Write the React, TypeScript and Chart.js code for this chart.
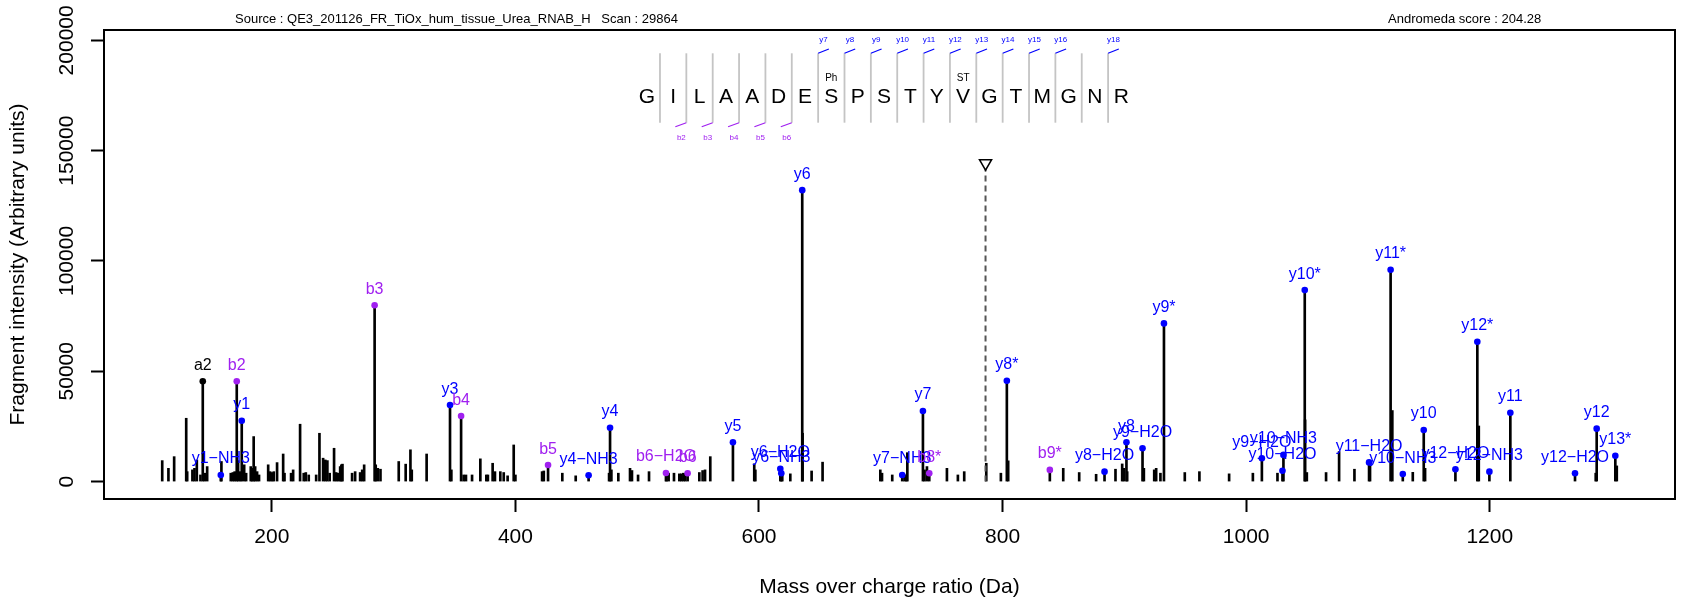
import React, { useEffect, useRef } from 'react';
import { Chart, registerables } from 'chart.js';

Chart.register(...registerables);

const FONT = "'Liberation Sans', Arial, Helvetica, sans-serif";

// ---------- data ----------
const peakMz = [
  110.0, 115.1, 119.8, 129.7, 130.5, 134.8, 136.5, 138.4, 141.4, 144.9, 146.9, 158.6, 166.3, 168.0, 169.5,
  172.3, 174.0, 177.3, 178.9, 182.7, 183.8, 185.1, 186.3, 187.9, 189.5, 197.0, 198.6, 200.2, 201.6, 204.3,
  209.3, 210.4, 215.8, 217.5, 223.2, 226.2, 227.9, 230.3, 236.4, 239.1, 242.1, 243.9, 245.6, 247.5, 251.1,
  252.8, 254.4, 256.1, 257.1, 258.0, 265.9, 268.4, 272.5, 274.2, 275.8, 285.3, 287.0, 289.2, 304.2, 309.9,
  313.8, 314.9, 327.1, 347.4, 357.5, 359.4, 364.4, 371.2, 376.1, 377.4, 381.3, 383.2, 387.6, 390.4, 393.6,
  398.6, 400.0, 421.9, 423.3, 438.5, 449.5, 476.9, 478.8, 484.5, 494.1, 495.7, 500.7, 509.7, 524.1, 525.8,
  530.2, 534.6, 536.2, 537.9, 539.5, 551.0, 553.7, 555.7, 560.0, 596.1, 597.0, 619.1, 625.7, 635.8, 643.2,
  652.2, 699.6, 701.0, 709.4, 719.5, 720.9, 721.8, 735.9, 737.9, 754.3, 763.3, 768.5, 786.6, 798.6, 804.6,
  849.8, 862.9, 876.8, 892.7, 898.2, 899.6, 902.3, 916.0, 924.5, 926.1, 929.6, 949.6, 961.6, 986.0, 1005.5,
  1025.7, 1048.4, 1049.8, 1065.6, 1076.3, 1088.9, 1101.7, 1120.0, 1136.8, 1146.9, 1191.0, 1287.0, 1304.3,
];
const peakIntensity = [
  9500, 6000, 11300, 28700, 4500, 5300, 6000, 9800, 3000, 3800, 6800, 9100, 3800, 4100, 4500,
  9500, 4500, 7600, 3800, 6800, 6000, 20400, 6800, 4500, 3000, 7600, 4500, 4100, 4500, 8600,
  12500, 3800, 3800, 5300, 26000, 3800, 4100, 3000, 3000, 21900, 10600, 9800, 9500, 3800, 15100,
  4100, 3800, 6800, 7600, 7900, 3800, 4500, 4100, 5300, 7600, 7600, 6000, 5600, 9100, 7900,
  14400, 5300, 12500, 5300, 3000, 3000, 3000, 10300, 3000, 3000, 8300, 4500, 4500, 4100, 2600,
  16600, 3000, 4500, 4800, 3800, 2600, 3800, 5300, 3800, 6000, 5000, 3000, 4500, 3000, 3800,
  3800, 3500, 3500, 3800, 3800, 4100, 5000, 5300, 11300, 8000, 5300, 3000, 3500, 21900, 4800,
  8800, 5300, 3800, 3000, 3000, 3000, 13100, 5300, 6800, 6000, 3000, 4500, 8300, 3800, 9400,
  6000, 4100, 3300, 5600, 8000, 6000, 4500, 6000, 5300, 6000, 3800, 4100, 4500, 3500, 3800,
  3800, 28000, 4100, 4100, 13600, 5600, 7600, 32200, 4200, 6000, 25200, 3800, 7100,
];

const ionMz = [
  143.3, 158.1, 171.2, 175.3, 284.4, 346.3, 355.4, 426.8, 460.1, 477.7, 523.6, 541.4, 578.6, 617.5, 618.3,
  635.5, 717.6, 734.6, 739.8, 803.5, 838.8, 883.7, 901.7, 914.9, 932.5, 1012.9, 1029.8, 1030.6, 1048.1, 1100.9,
  1118.6, 1128.6, 1145.8, 1171.8, 1189.8, 1199.7, 1216.9, 1270.0, 1287.8, 1303.1,
];
const ionIntensity = [
  45500, 3000, 45500, 27600, 79900, 34700, 29700, 7500, 2900, 24400, 3900, 3800, 17800, 5800, 3800,
  132100, 3000, 32000, 3800, 45700, 5300, 4500, 17800, 15100, 71700, 10600, 4900, 12100, 86800, 8700,
  96000, 3400, 23400, 5600, 63400, 4500, 31200, 3800, 24000, 11700,
];
const ionLabel = [
  'a2', 'y1−NH3', 'b2', 'y1', 'b3', 'y3', 'b4', 'b5', 'y4−NH3', 'y4', 'b6−H2O', 'b6', 'y5', 'y6−H2O', 'y6−NH3',
  'y6', 'y7−NH3', 'y7', 'b8*', 'y8*', 'b9*', 'y8−H2O', 'y8', 'y9−H2O', 'y9*', 'y9−H2O', 'y10−H2O', 'y10−NH3', 'y10*', 'y11−H2O',
  'y11*', 'y10−NH3', 'y10', 'y12−H2O', 'y12*', 'y12−NH3', 'y11', 'y12−H2O', 'y12', 'y13*',
];
const ionKind = [
  'a', 'y', 'b', 'y', 'b', 'y', 'b', 'b', 'y', 'y', 'b', 'b', 'y', 'y', 'y',
  'y', 'y', 'y', 'b', 'y', 'b', 'y', 'y', 'y', 'y', 'y', 'y', 'y', 'y', 'y',
  'y', 'y', 'y', 'y', 'y', 'y', 'y', 'y', 'y', 'y',
];

const precursorMz = 786;
const precursorMarker = 144300;

const xTicks = [200, 400, 600, 800, 1000, 1200];
const yTicks = [0, 50000, 100000, 150000, 200000];
const xRange = [62.2, 1352.1];
const yRange = [-7900, 204700];

const sequence = ['G', 'I', 'L', 'A', 'A', 'D', 'E', 'S', 'P', 'S', 'T', 'Y', 'V', 'G', 'T', 'M', 'G', 'N', 'R'];
const yLadderLabels = ['y7', 'y8', 'y9', 'y10', 'y11', 'y12', 'y13', 'y14', 'y15', 'y16', 'y18'];
const yLadderSites = [7, 8, 9, 10, 11, 12, 13, 14, 15, 16, 18];
const bLadderLabels = ['b2', 'b3', 'b4', 'b5', 'b6'];
const bLadderSites = [2, 3, 4, 5, 6];
const modSites = [7, 12];
const modTexts = ['Ph', 'ST'];

const sourceText = 'Source : QE3_201126_FR_TiOx_hum_tissue_Urea_RNAB_H   Scan : 29864';
const scoreText = 'Andromeda score : 204.28';
const xTitle = 'Mass over charge ratio (Da)';
const yTitle = 'Fragment intensity (Arbitrary units)';

// ---------- styles ----------
const COLORS: Record<string, string> = { y: '#0000FF', b: '#A020F0', a: '#000000' };
const LADDER = {
  x0: 646.8,
  step: 26.36,
  baseline: 102.5,
  sepTop: 53.3,
  sepBottom: 122.7,
  yLabelBase: 41.9,
  bLabelBase: 139.9,
  modBase: 80.9,
};

const decorPlugin = {
  id: 'decor',
  afterDatasetsDraw(chart: any) {
    const ctx = chart.ctx;
    const meta = chart.getDatasetMeta(2);
    ctx.save();
    ctx.font = `16px ${FONT}`;
    ctx.textAlign = 'center';
    ctx.textBaseline = 'alphabetic';
    meta.data.forEach((pt: any, i: number) => {
      ctx.fillStyle = COLORS[ionKind[i]];
      ctx.fillText(ionLabel[i], pt.x, pt.y - 11.5);
    });
    ctx.restore();
  },
  afterDraw(chart: any) {
    const ctx = chart.ctx;
    const { left, right, top, bottom } = chart.chartArea;
    ctx.save();
    // frame
    ctx.strokeStyle = '#000';
    ctx.lineWidth = 2;
    ctx.strokeRect(left, top, right - left, bottom - top);

    // rotated y tick labels
    const ys = chart.scales.y;
    ctx.fillStyle = '#000';
    ctx.font = `21px ${FONT}`;
    ctx.textAlign = 'center';
    ctx.textBaseline = 'middle';
    yTicks.forEach((v) => {
      const py = ys.getPixelForValue(v);
      ctx.save();
      ctx.translate(67.5, py);
      ctx.rotate(-Math.PI / 2);
      ctx.fillText(String(v), 0, 0);
      ctx.restore();
    });

    // header
    ctx.font = `13px ${FONT}`;
    ctx.textAlign = 'left';
    ctx.textBaseline = 'alphabetic';
    ctx.fillText(sourceText, 235, 23);
    ctx.fillText(scoreText, 1388, 23);

    // sequence ladder
    const sepX = (k: number) => LADDER.x0 + (k - 0.5) * LADDER.step;
    ctx.strokeStyle = '#C4C4C4';
    ctx.lineWidth = 1.8;
    for (let k = 1; k < sequence.length; k++) {
      ctx.beginPath();
      ctx.moveTo(sepX(k), LADDER.sepTop);
      ctx.lineTo(sepX(k), LADDER.sepBottom);
      ctx.stroke();
    }
    ctx.fillStyle = '#000';
    ctx.font = `21px ${FONT}`;
    ctx.textAlign = 'center';
    sequence.forEach((aa, i) => ctx.fillText(aa, LADDER.x0 + i * LADDER.step, LADDER.baseline));

    ctx.font = `10px ${FONT}`;
    modSites.forEach((s, i) => ctx.fillText(modTexts[i], LADDER.x0 + s * LADDER.step, LADDER.modBase));

    ctx.lineWidth = 1.2;
    ctx.font = `8px ${FONT}`;
    ctx.strokeStyle = COLORS.y;
    ctx.fillStyle = COLORS.y;
    yLadderSites.forEach((s, i) => {
      const x = sepX(s);
      ctx.beginPath();
      ctx.moveTo(x, LADDER.sepTop);
      ctx.lineTo(x + 10.7, LADDER.sepTop - 4.3);
      ctx.stroke();
      ctx.fillText(yLadderLabels[i], x + 5.4, LADDER.yLabelBase);
    });
    ctx.strokeStyle = COLORS.b;
    ctx.fillStyle = COLORS.b;
    bLadderSites.forEach((s, i) => {
      const x = sepX(s);
      ctx.beginPath();
      ctx.moveTo(x, LADDER.sepBottom);
      ctx.lineTo(x - 11, LADDER.sepBottom + 4.1);
      ctx.stroke();
      ctx.fillText(bLadderLabels[i], x - 5, LADDER.bLabelBase);
    });
    ctx.restore();
  },
};

export default function App() {
  const ref = useRef<HTMLCanvasElement | null>(null);

  useEffect(() => {
    if (!ref.current) return;
    Chart.defaults.font.family = FONT;
    Chart.defaults.color = '#000';

    const barData = peakMz
      .map((m, i) => ({ x: m, y: peakIntensity[i] }))
      .concat(ionMz.map((m, i) => ({ x: m, y: ionIntensity[i] })));

    const chart = new Chart(ref.current, {
      type: 'scatter',
      data: {
        datasets: [
          {
            type: 'bar',
            label: 'peaks',
            data: barData,
            backgroundColor: '#000',
            borderWidth: 0,
            barThickness: 2,
            order: 3,
          } as any,
          {
            type: 'line',
            label: 'precursor',
            data: [
              { x: precursorMz, y: 0 },
              { x: precursorMz, y: precursorMarker },
            ],
            borderColor: '#555555',
            borderWidth: 2,
            borderDash: [6, 4],
            pointRadius: [0, 7],
            pointStyle: 'triangle',
            pointRotation: 180,
            pointBackgroundColor: '#ffffff',
            pointBorderColor: '#000000',
            pointBorderWidth: 1.5,
            order: 2,
          } as any,
          {
            type: 'scatter',
            label: 'ions',
            data: ionMz.map((m, i) => ({ x: m, y: ionIntensity[i] })),
            pointRadius: 3.3,
            pointBorderWidth: 0,
            pointBackgroundColor: ionKind.map((k) => COLORS[k]),
            showLine: false,
            order: 1,
          } as any,
        ],
      },
      options: {
        responsive: false,
        animation: false,
        events: [],
        layout: { padding: { top: 30, right: 10, left: 0, bottom: 0 } },
        plugins: { legend: { display: false }, tooltip: { enabled: false } },
        scales: {
          x: {
            type: 'linear',
            min: xRange[0],
            max: xRange[1],
            offset: false,
            afterFit: (s: any) => {
              s.height = 101;
            },
            afterBuildTicks: (s: any) => {
              s.ticks = xTicks.map((v) => ({ value: v }));
            },
            grid: {
              drawOnChartArea: false,
              drawTicks: true,
              tickLength: 13,
              tickWidth: 2,
              tickColor: '#000',
              offset: false,
            },
            border: { display: true, color: '#000', width: 2 },
            ticks: {
              autoSkip: false,
              maxRotation: 0,
              padding: 13,
              font: { size: 21, family: FONT },
              color: '#000',
              callback: (v: any) => String(v),
            },
            title: {
              display: true,
              text: xTitle,
              font: { size: 21, family: FONT },
              color: '#000',
              padding: { top: 0, bottom: 0 },
            },
          },
          y: {
            type: 'linear',
            min: yRange[0],
            max: yRange[1],
            afterFit: (s: any) => {
              s.width = 104;
            },
            afterBuildTicks: (s: any) => {
              s.ticks = yTicks.map((v) => ({ value: v }));
            },
            grid: {
              drawOnChartArea: false,
              drawTicks: true,
              tickLength: 13,
              tickWidth: 2,
              tickColor: '#000',
            },
            border: { display: true, color: '#000', width: 2 },
            ticks: { display: false },
            title: {
              display: true,
              text: yTitle,
              font: { size: 21, family: FONT },
              color: '#000',
              padding: { top: 6, bottom: 0 },
            },
          },
        },
      } as any,
      plugins: [decorPlugin],
    });
    return () => chart.destroy();
  }, []);

  return (
    <div style={{ position: 'absolute', left: 0, top: 0, width: 1685, height: 600, background: '#fff' }}>
      <canvas ref={ref} width={1685} height={600} style={{ display: 'block', width: 1685, height: 600 }} />
    </div>
  );
}
